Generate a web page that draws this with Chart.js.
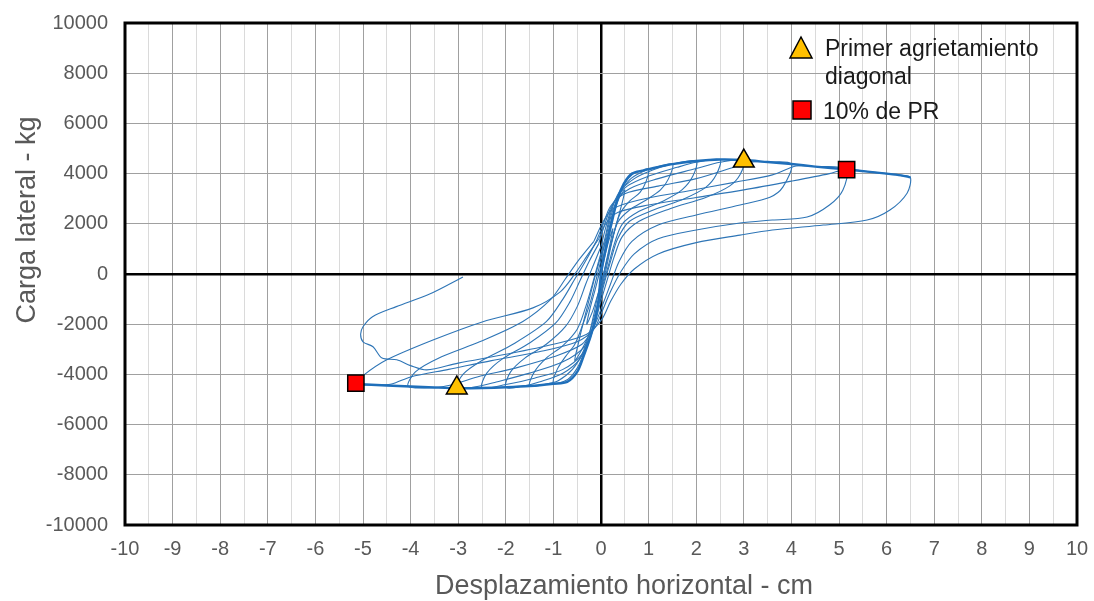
<!DOCTYPE html>
<html>
<head>
<meta charset="utf-8">
<script src="https://cdn.jsdelivr.net/npm/chart.js@4.4.1/dist/chart.umd.min.js"></script>
<style>
  html, body { margin: 0; padding: 0; background: #fff; }
  #wrap { width: 1094px; height: 601px; }
</style>
</head>
<body>
<div id="wrap"><canvas id="hyst" width="1094" height="601"></canvas></div>
<script>
// cyclic test: lateral load (kg) vs horizontal displacement (cm), one array per cycle
const loop1 = [[0,0],[0.08,700],[0.16,1300],[0.25,1800],[0.18,1100],[0.1,400],[0.02,-300],[-0.08,-900],[-0.18,-1500],[-0.3,-2000],[-0.22,-1300],[-0.12,-600],[-0.04,0],[0.05,700]];
const loop2 = [[0.05,700],[0.15,1600],[0.28,2500],[0.4,3100],[0.5,3350],[0.44,2800],[0.34,2100],[0.22,1200],[0.12,300],[0.02,-500],[-0.1,-1400],[-0.25,-2400],[-0.4,-3000],[-0.55,-3450],[-0.48,-2800],[-0.38,-2000],[-0.26,-1100],[-0.14,-200],[-0.02,600]];
const loop3 = [[-0.02,600],[0.1,1300],[0.22,2200],[0.34,2950],[0.48,3550],[0.65,3950],[0.85,4100],[1,4180],[0.95,3700],[0.82,3250],[0.6,2900],[0.4,2400],[0.25,1500],[0.12,500],[0.02,-400],[-0.08,-1400],[-0.2,-2300],[-0.35,-3100],[-0.5,-3750],[-0.7,-4200],[-1,-4350],[-0.92,-3800],[-0.75,-3300],[-0.55,-2800],[-0.38,-2000],[-0.22,-1100],[-0.1,-200],[0.02,700]];
const loop4 = [[0.02,700],[0.12,1600],[0.24,2500],[0.4,3200],[0.6,3750],[0.85,4050],[1.1,4220],[1.5,4380],[1.42,3800],[1.25,3350],[0.95,2950],[0.6,2550],[0.35,2050],[0.2,1100],[0.08,200],[-0.05,-700],[-0.15,-1600],[-0.25,-2400],[-0.4,-3200],[-0.6,-3800],[-0.9,-4250],[-1.2,-4400],[-1.5,-4460],[-1.4,-3900],[-1.15,-3350],[-0.8,-2850],[-0.5,-2200],[-0.32,-1300],[-0.18,-400],[-0.05,500]];
const loop5 = [[-0.05,500],[0.08,1400],[0.2,2400],[0.38,3250],[0.7,3800],[1.1,4150],[1.5,4380],[2,4500],[1.93,3900],[1.7,3350],[1.3,2900],[0.8,2500],[0.45,2000],[0.28,1200],[0.15,300],[0.02,-600],[-0.1,-1600],[-0.25,-2600],[-0.45,-3400],[-0.8,-3950],[-1.3,-4300],[-1.6,-4450],[-2,-4520],[-1.9,-3900],[-1.6,-3350],[-1.15,-2800],[-0.75,-2100],[-0.5,-1300],[-0.32,-400],[-0.15,400],[0,1100]];
const loop6 = [[0,1100],[0.12,2000],[0.28,2900],[0.55,3500],[1,3900],[1.6,4250],[2,4450],[2.5,4560],[2.42,3950],[2.2,3450],[1.75,3000],[1.1,2550],[0.6,2100],[0.35,1400],[0.2,500],[0.05,-500],[-0.08,-1500],[-0.2,-2400],[-0.4,-3200],[-0.8,-3800],[-1.4,-4150],[-2,-4400],[-2.5,-4540],[-2.4,-3950],[-2.05,-3350],[-1.5,-2750],[-0.95,-1950],[-0.65,-1100],[-0.45,-300],[-0.25,500],[-0.05,1200]];
const loop7 = [[-0.05,1200],[0.1,2100],[0.25,2800],[0.6,3400],[1.2,3800],[2,4200],[2.5,4450],[3,4540],[2.92,3950],[2.7,3500],[2.2,3050],[1.45,2600],[0.8,2100],[0.45,1500],[0.28,700],[0.12,-300],[-0.02,-1200],[-0.15,-2100],[-0.35,-2900],[-0.8,-3500],[-1.5,-3950],[-2.2,-4300],[-2.6,-4480],[-3.03,-4550],[-2.9,-4000],[-2.5,-3450],[-1.85,-2800],[-1.15,-1900],[-0.8,-1000],[-0.55,-200],[-0.3,600],[-0.1,1300]];
const loop8 = [[-0.1,1300],[0.05,2000],[0.2,2700],[0.5,3200],[1.2,3500],[2,3800],[2.7,4200],[3.1,4450],[3.5,4460],[4,4380],[3.82,3460],[3.55,3060],[2.92,2750],[2,2350],[1.2,1950],[0.65,1300],[0.38,500],[0.2,-400],[0.02,-1300],[-0.15,-2100],[-0.4,-2800],[-1,-3300],[-1.8,-3750],[-2.6,-4100],[-3.1,-4400],[-3.5,-4520],[-4.05,-4480],[-3.9,-3900],[-3.35,-3300],[-2.55,-2700],[-1.65,-1900],[-1.05,-1000],[-0.75,-200],[-0.45,600],[-0.15,1300]];
const loop9 = [[-0.15,1300],[0.05,2100],[0.25,2600],[0.8,2950],[1.8,3300],[2.8,3650],[3.6,3950],[4.1,4300],[4.5,4280],[5.15,4170],[5.08,3340],[4.8,2750],[4.33,2270],[3.6,2150],[2.92,2030],[2,1750],[1.2,1400],[0.7,800],[0.42,100],[0.2,-700],[0.02,-1500],[-0.15,-2200],[-0.5,-2700],[-1.3,-3100],[-2.3,-3450],[-3.2,-3800],[-4,-4100],[-4.4,-4380],[-4.8,-4420],[-5.15,-4380],[-5,-4050],[-4.5,-3420],[-3.53,-2630],[-2.48,-1900],[-1.43,-1350],[-0.85,-700],[-0.55,0],[-0.3,700],[-0.05,1400]];
const loop10 = [[-0.05,1400],[0.1,2000],[0.35,2450],[1,2750],[2,3050],[3,3350],[4,3700],[4.8,4000],[5.15,4170],[5.6,4080],[6,4000],[6.3,3930],[6.5,3850],[6.43,3220],[6.07,2550],[5.59,2150],[4.67,1950],[3.6,1750],[2.92,1550],[2,1250],[1.2,800],[0.7,200],[0.42,-400],[0.2,-1100],[0.02,-1800],[-0.3,-2400],[-1,-2800],[-2,-3200],[-3,-3550],[-3.66,-3820],[-4,-3650],[-4.29,-3420],[-4.6,-3350],[-4.79,-2900],[-5,-2700],[-5.05,-2400],[-5,-2100],[-4.8,-1700],[-4.3,-1300],[-3.6,-800],[-2.9,-120]];
const loops = [loop1, loop2, loop3, loop4, loop5, loop6, loop7, loop8, loop9, loop10];

// backbone retraced by every cycle (drawn heavier)
const envelope = [[-5.15,-4380],[-4.5,-4440],[-4,-4480],[-3.5,-4520],[-3,-4550],[-2.5,-4540],[-2,-4510],[-1.5,-4460],[-1,-4370],[-0.71,-4300],[-0.5,-3900],[-0.37,-3300],[-0.22,-2500],[-0.12,-1800],[-0.05,-1000],[0,0],[0.1,1000],[0.22,2000],[0.35,3000],[0.48,3600],[0.65,4000],[0.9,4130],[1,4180],[1.5,4380],[2,4500],[2.5,4560],[3,4540],[3.5,4460],[4,4380],[4.5,4280],[5.15,4170],[5.6,4080],[6,4000],[6.3,3930],[6.5,3850]];

const firstCrack = [[3.0,4500],[-3.03,-4540]];
const tenPctPR = [[5.16,4160],[-5.15,-4350]];

const xTitle = 'Desplazamiento horizontal - cm';
const yTitle = 'Carga lateral - kg';
const legendItems = ['Primer agrietamiento', 'diagonal', '10% de PR'];

const toXY = arr => arr.map(p => ({ x: p[0], y: p[1] }));
const FONT = '"Liberation Sans", Arial, sans-serif';
const LINE = '#2E75B6';

const datasets = [
  { data: toXY(firstCrack), showLine: false, pointStyle: 'triangle', pointRadius: 12,
    backgroundColor: '#FFC000', borderColor: '#000', borderWidth: 1.5 },
  { data: toXY(tenPctPR), showLine: false, pointStyle: 'rect', pointRadius: 11.5,
    backgroundColor: '#FF0000', borderColor: '#000', borderWidth: 1.5 },
  { data: toXY(envelope), showLine: true, borderColor: '#1F6FBA', borderWidth: 2.4,
    pointRadius: 0, tension: 0.3 }
];
loops.forEach(l => datasets.push({
  data: toXY(l), showLine: true, borderColor: LINE, borderWidth: 1.1, pointRadius: 0, tension: 0.3
}));

// no extra room for first/last tick labels, so the plot area stays where the padding puts it
function noPad(s) {
  s.paddingTop = 0; s.paddingBottom = 0; s.paddingLeft = 0; s.paddingRight = 0;
}

// frame, axis titles and legend box
const decor = {
  id: 'decor',
  afterDraw(chart) {
    const { ctx, chartArea: a } = chart;
    ctx.save();
    ctx.strokeStyle = '#000';
    ctx.lineWidth = 3;
    ctx.strokeRect(a.left, a.top, a.right - a.left, a.bottom - a.top);

    ctx.fillStyle = '#595959';
    ctx.font = '27px ' + FONT;
    ctx.textAlign = 'center';
    ctx.textBaseline = 'middle';
    ctx.fillText(xTitle, 624, 587);
    ctx.translate(28, 220);
    ctx.rotate(-Math.PI / 2);
    ctx.fillText(yTitle, 0, 0);
    ctx.restore();

    ctx.save();
    ctx.lineWidth = 1.5;
    ctx.strokeStyle = '#000';
    // triangle marker
    ctx.beginPath();
    ctx.moveTo(801, 37);
    ctx.lineTo(812, 58);
    ctx.lineTo(790, 58);
    ctx.closePath();
    ctx.fillStyle = '#FFC000';
    ctx.fill();
    ctx.stroke();
    // square marker
    ctx.fillStyle = '#FF0000';
    ctx.fillRect(793, 101, 18, 18);
    ctx.strokeRect(793, 101, 18, 18);

    ctx.fillStyle = '#1a1a1a';
    ctx.font = '23px ' + FONT;
    ctx.textAlign = 'left';
    ctx.textBaseline = 'alphabetic';
    ctx.fillText(legendItems[0], 825, 56);
    ctx.fillText(legendItems[1], 825, 84);
    ctx.fillText(legendItems[2], 823, 119);
    ctx.restore();
  }
};

new Chart(document.getElementById('hyst'), {
  type: 'scatter',
  data: { datasets },
  options: {
    responsive: false,
    animation: false,
    devicePixelRatio: 1,
    layout: { padding: { top: 23, right: 17, left: 0, bottom: 0 } },
    plugins: { legend: { display: false }, tooltip: { enabled: false } },
    scales: {
      x: {
        type: 'linear', min: -10, max: 10,
        afterFit: s => { s.height = 76; noPad(s); },
        border: { display: false },
        grid: {
          drawTicks: false,
          color: c => c.tick.value === 0 ? '#000' : (Number.isInteger(c.tick.value) ? '#A0A0A0' : '#DADADA'),
          lineWidth: c => c.tick.value === 0 ? 2.5 : 1
        },
        ticks: {
          stepSize: 0.5, autoSkip: false, maxRotation: 0, padding: 12,
          color: '#595959', font: { family: FONT, size: 20 },
          callback: v => Number.isInteger(v) ? String(v) : ''
        }
      },
      y: {
        type: 'linear', min: -10000, max: 10000,
        afterFit: s => { s.width = 125; noPad(s); },
        border: { display: false },
        grid: {
          drawTicks: false,
          color: c => c.tick.value === 0 ? '#000' : '#A0A0A0',
          lineWidth: c => c.tick.value === 0 ? 2.5 : 1
        },
        ticks: {
          stepSize: 2000, padding: 17,
          color: '#595959', font: { family: FONT, size: 20 },
          callback: v => String(v)
        }
      }
    }
  },
  plugins: [decor]
});
</script>
</body>
</html>
